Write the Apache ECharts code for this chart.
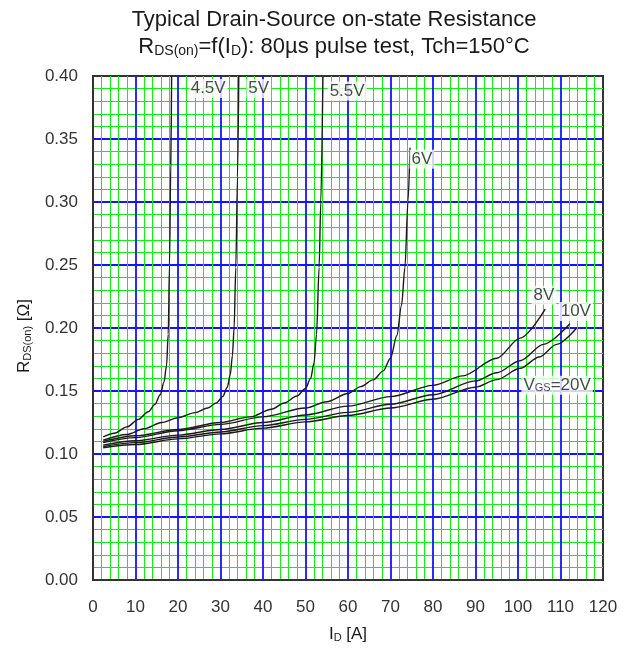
<!DOCTYPE html>
<html>
<head>
<meta charset="utf-8">
<script src="https://cdn.jsdelivr.net/npm/echarts@6/dist/echarts.min.js"></script>
<style>
  html, body { margin: 0; padding: 0; background: #fff; }
  #chart { width: 632px; height: 648px; }
</style>
</head>
<body>
<div id="chart"></div>
<script>
// Drain current I_D [A] vs. on-state resistance R_DS(on) [Ω], one curve per gate voltage
const vgs45 = [[2.4,0.1135],[5,0.1165],[8,0.1215],[10.7,0.1275],[13,0.1335],[14.6,0.1395],[15.8,0.147],[16.7,0.157],[17.3,0.170],[17.7,0.195],[18.0,0.25],[18.3,0.33],[18.5,0.40]];
const vgs5 = [[2.4,0.111],[8,0.1155],[12,0.120],[16.2,0.125],[20,0.1288],[24,0.1328],[27,0.1365],[29,0.1405],[30.5,0.1455],[31.6,0.153],[32.3,0.163],[32.8,0.178],[33.2,0.200],[33.6,0.248],[34.0,0.32],[34.3,0.40]];
const vgs55 = [[2.4,0.110],[10,0.1145],[20,0.1195],[30,0.125],[37,0.1295],[42,0.1355],[45,0.1405],[48,0.146],[50,0.152],[51.2,0.160],[52,0.172],[52.6,0.195],[53.2,0.248],[53.6,0.300],[54.1,0.40]];
const vgs6 = [[2.4,0.109],[10,0.113],[20,0.1185],[30,0.1235],[40,0.1295],[50,0.1365],[55,0.1415],[60,0.148],[63,0.1535],[66,0.159],[68.3,0.166],[70,0.176],[71.5,0.194],[72.6,0.218],[73.4,0.248],[74.1,0.300],[74.6,0.343]];
const vgs8 = [[2.4,0.107],[10,0.1105],[20,0.115],[30,0.1195],[40,0.125],[50,0.131],[60,0.138],[70,0.1455],[80,0.1545],[87,0.162],[95,0.176],[100.5,0.192],[106.4,0.215]];
const vgs10 = [[2.4,0.106],[10,0.109],[20,0.1135],[30,0.1175],[40,0.1225],[50,0.1275],[60,0.133],[70,0.1395],[80,0.147],[90,0.158],[95,0.1645],[100.5,0.174],[106,0.187],[112.2,0.2034]];
const vgs20 = [[2.4,0.105],[10,0.1075],[20,0.112],[30,0.116],[40,0.1205],[50,0.1255],[60,0.1305],[70,0.1365],[80,0.1435],[90,0.153],[95,0.159],[100.5,0.168],[105,0.177],[109.1,0.187],[113.8,0.200]];

// Curve labels: [I_D, R_DS(on), text]
const curveLabels = [
  [27.1, 0.390, '4.5V'],
  [39.0, 0.390, '5V'],
  [59.8, 0.388, '5.5V'],
  [77.4, 0.334, '6V'],
  [106.1, 0.226, '8V'],
  [113.6, 0.213, '10V'],
  [109.2, 0.1545, '{n|V}{s|GS}{n|=20V}']
];

const titleText = 'Typical Drain-Source on-state Resistance';
const subtitleText = 'R{s|DS(on)}=f(I{s|D}): 80µs pulse test, Tch=150°C';
const xName = 'I{s|D} [A]';
const yName = 'R{s|DS(on)} [Ω]';

const FONT = 'Liberation Sans, Arial, sans-serif';
const INK = '#1a1a1a';
const GREEN = '#11ee11';
const BLUE = '#1414ff';

const chart = echarts.init(document.getElementById('chart'), null, { renderer: 'canvas' });

function curve(name, data) {
  return {
    name: name,
    type: 'line',
    data: data,
    showSymbol: false,
    smooth: 0.3,
    smoothMonotone: 'x',
    lineStyle: { color: INK, width: 1.4 },
    z: 3,
    silent: true
  };
}

const subStyle = (size) => ({ fontFamily: FONT, fontSize: size, color: INK, verticalAlign: 'bottom' });

chart.setOption({
  animation: false,
  backgroundColor: '#fff',
  title: {
    text: titleText,
    subtext: subtitleText,
    left: 329,
    top: 4,
    textAlign: 'center',
    itemGap: 5,
    textStyle: { fontFamily: FONT, fontSize: 22, fontWeight: 'normal', color: INK },
    subtextStyle: {
      fontFamily: FONT, fontSize: 22, color: INK,
      rich: { s: subStyle(14) }
    }
  },
  grid: {
    left: 93, right: 29, top: 76, bottom: 62,
    show: true, borderColor: '#333', borderWidth: 2, backgroundColor: '#fff'
  },
  xAxis: {
    type: 'value', min: 0, max: 120, interval: 10,
    name: xName, nameLocation: 'middle', nameGap: 46,
    nameTextStyle: {
      fontFamily: FONT, fontSize: 17, color: INK,
      rich: { s: subStyle(11) }
    },
    axisLine: { show: true, lineStyle: { color: '#333', width: 2 } },
    axisTick: { show: false },
    axisLabel: { fontFamily: FONT, fontSize: 17, color: '#333', margin: 19 },
    splitLine: { show: true, showMinLine: false, showMaxLine: false, lineStyle: { color: BLUE, width: 1.8 } },
    minorTick: { show: false, splitNumber: 5 },
    minorSplitLine: { show: true, lineStyle: { color: GREEN, width: 1 } }
  },
  yAxis: {
    type: 'value', min: 0, max: 0.4, interval: 0.05,
    name: yName, nameLocation: 'middle', nameGap: 60, nameRotate: 90,
    nameTextStyle: {
      fontFamily: FONT, fontSize: 17, color: INK,
      padding: [0, 16, 0, 0],
      rich: { s: subStyle(11) }
    },
    axisLine: { show: true, lineStyle: { color: '#333', width: 2 } },
    axisTick: { show: false },
    axisLabel: { fontFamily: FONT, fontSize: 17, color: '#333', margin: 15, formatter: v => v.toFixed(2) },
    splitLine: { show: true, showMinLine: false, showMaxLine: false, lineStyle: { color: BLUE, width: 1.8 } },
    minorTick: { show: false, splitNumber: 5 },
    minorSplitLine: { show: true, lineStyle: { color: GREEN, width: 1 } }
  },
  series: [
    curve('4.5V', vgs45),
    curve('5V', vgs5),
    curve('5.5V', vgs55),
    curve('6V', vgs6),
    curve('8V', vgs8),
    curve('10V', vgs10),
    curve('20V', vgs20),
    {
      name: 'labels',
      type: 'scatter',
      data: curveLabels,
      symbolSize: 0,
      z: 5,
      silent: true,
      label: {
        show: true,
        position: 'inside',
        formatter: p => p.data[2],
        fontFamily: FONT, fontSize: 17, color: INK,
        backgroundColor: '#fff',
        padding: [1, 2],
        rich: {
          n: { fontFamily: FONT, fontSize: 17, color: INK },
          s: subStyle(11)
        }
      }
    }
  ]
});
</script>
</body>
</html>
